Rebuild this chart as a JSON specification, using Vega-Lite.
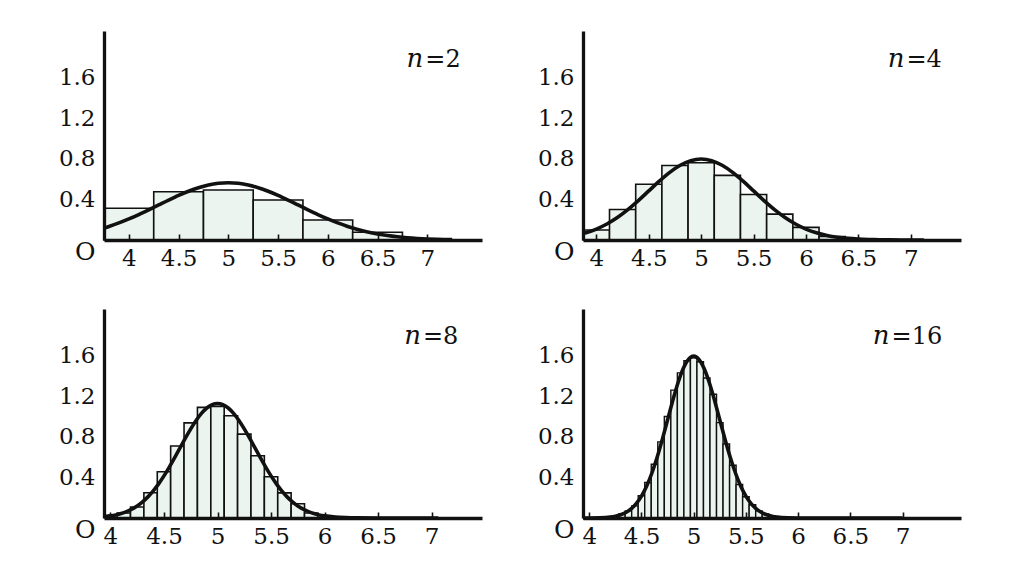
{
  "$schema": "https://vega.github.io/schema/vega-lite/v6.json",
  "background": "white",
  "padding": {"left": 58, "top": 31, "right": 5, "bottom": 5},
  "datasets": {
    "bars": [
      {"p":1,"lo":3.75,"hi":4.25,"h":0.313},{"p":1,"lo":4.25,"hi":4.75,"h":0.476},{"p":1,"lo":4.75,"hi":5.25,"h":0.493},{"p":1,"lo":5.25,"hi":5.75,"h":0.394},{"p":1,"lo":5.75,"hi":6.25,"h":0.197},{"p":1,"lo":6.25,"hi":6.75,"h":0.076},
      {"p":2,"lo":3.875,"hi":4.125,"h":0.098},{"p":2,"lo":4.125,"hi":4.375,"h":0.30},{"p":2,"lo":4.375,"hi":4.625,"h":0.549},{"p":2,"lo":4.625,"hi":4.875,"h":0.735},{"p":2,"lo":4.875,"hi":5.125,"h":0.761},{"p":2,"lo":5.125,"hi":5.375,"h":0.637},{"p":2,"lo":5.375,"hi":5.625,"h":0.448},{"p":2,"lo":5.625,"hi":5.875,"h":0.255},{"p":2,"lo":5.875,"hi":6.125,"h":0.124},{"p":2,"lo":6.125,"hi":6.375,"h":0.035},
      {"p":3,"lo":4.0625,"hi":4.1875,"h":0.05},{"p":3,"lo":4.1875,"hi":4.3125,"h":0.108},{"p":3,"lo":4.3125,"hi":4.4375,"h":0.249},{"p":3,"lo":4.4375,"hi":4.5625,"h":0.456},{"p":3,"lo":4.5625,"hi":4.6875,"h":0.709},{"p":3,"lo":4.6875,"hi":4.8125,"h":0.938},{"p":3,"lo":4.8125,"hi":4.9375,"h":1.09},{"p":3,"lo":4.9375,"hi":5.0625,"h":1.10},{"p":3,"lo":5.0625,"hi":5.1875,"h":1.008},{"p":3,"lo":5.1875,"hi":5.3125,"h":0.827},{"p":3,"lo":5.3125,"hi":5.4375,"h":0.614},{"p":3,"lo":5.4375,"hi":5.5625,"h":0.407},{"p":3,"lo":5.5625,"hi":5.6875,"h":0.248},{"p":3,"lo":5.6875,"hi":5.8125,"h":0.14},{"p":3,"lo":5.8125,"hi":5.9375,"h":0.05},
      {"p":4,"lo":4.21875,"hi":4.28125,"h":0.02},{"p":4,"lo":4.28125,"hi":4.34375,"h":0.04},{"p":4,"lo":4.34375,"hi":4.40625,"h":0.07},{"p":4,"lo":4.40625,"hi":4.46875,"h":0.12},{"p":4,"lo":4.46875,"hi":4.53125,"h":0.22},{"p":4,"lo":4.53125,"hi":4.59375,"h":0.35},{"p":4,"lo":4.59375,"hi":4.65625,"h":0.53},{"p":4,"lo":4.65625,"hi":4.71875,"h":0.75},{"p":4,"lo":4.71875,"hi":4.78125,"h":1.00},{"p":4,"lo":4.78125,"hi":4.84375,"h":1.26},{"p":4,"lo":4.84375,"hi":4.90625,"h":1.43},{"p":4,"lo":4.90625,"hi":4.96875,"h":1.55},{"p":4,"lo":4.96875,"hi":5.03125,"h":1.58},{"p":4,"lo":5.03125,"hi":5.09375,"h":1.54},{"p":4,"lo":5.09375,"hi":5.15625,"h":1.38},{"p":4,"lo":5.15625,"hi":5.21875,"h":1.22},{"p":4,"lo":5.21875,"hi":5.28125,"h":0.94},{"p":4,"lo":5.28125,"hi":5.34375,"h":0.73},{"p":4,"lo":5.34375,"hi":5.40625,"h":0.52},{"p":4,"lo":5.40625,"hi":5.46875,"h":0.33},{"p":4,"lo":5.46875,"hi":5.53125,"h":0.21},{"p":4,"lo":5.53125,"hi":5.59375,"h":0.13},{"p":4,"lo":5.59375,"hi":5.65625,"h":0.07},{"p":4,"lo":5.65625,"hi":5.71875,"h":0.04},{"p":4,"lo":5.71875,"hi":5.78125,"h":0.02}
    ],
    "curve": [
      {"p":1,"x":3.75,"y":0.118},{"p":1,"x":3.8,"y":0.1337},{"p":1,"x":3.9,"y":0.1683},{"p":1,"x":4.0,"y":0.2076},{"p":1,"x":4.1,"y":0.251},{"p":1,"x":4.2,"y":0.2975},{"p":1,"x":4.3,"y":0.3456},{"p":1,"x":4.4,"y":0.3936},{"p":1,"x":4.5,"y":0.4394},{"p":1,"x":4.6,"y":0.4808},{"p":1,"x":4.7,"y":0.5156},{"p":1,"x":4.8,"y":0.5421},{"p":1,"x":4.9,"y":0.5586},{"p":1,"x":5.0,"y":0.5642},{"p":1,"x":5.1,"y":0.5586},{"p":1,"x":5.2,"y":0.5421},{"p":1,"x":5.3,"y":0.5156},{"p":1,"x":5.4,"y":0.4808},{"p":1,"x":5.5,"y":0.4394},{"p":1,"x":5.6,"y":0.3936},{"p":1,"x":5.7,"y":0.3456},{"p":1,"x":5.8,"y":0.2975},{"p":1,"x":5.9,"y":0.251},{"p":1,"x":6.0,"y":0.2076},{"p":1,"x":6.1,"y":0.1683},{"p":1,"x":6.2,"y":0.1337},{"p":1,"x":6.3,"y":0.1041},{"p":1,"x":6.4,"y":0.0795},{"p":1,"x":6.5,"y":0.0595},{"p":1,"x":6.6,"y":0.0436},{"p":1,"x":6.7,"y":0.0314},{"p":1,"x":6.8,"y":0.0221},{"p":1,"x":6.9,"y":0.0153},{"p":1,"x":7.0,"y":0.0103},{"p":1,"x":7.1,"y":0.0069},{"p":1,"x":7.2,"y":0.0045},{"p":1,"x":7.25,"y":0.0036},
      {"p":2,"x":3.875,"y":0.0635},{"p":2,"x":3.9,"y":0.0709},{"p":2,"x":4.0,"y":0.108},{"p":2,"x":4.1,"y":0.1579},{"p":2,"x":4.2,"y":0.2218},{"p":2,"x":4.3,"y":0.2995},{"p":2,"x":4.4,"y":0.3884},{"p":2,"x":4.5,"y":0.4839},{"p":2,"x":4.6,"y":0.5794},{"p":2,"x":4.7,"y":0.6665},{"p":2,"x":4.8,"y":0.7366},{"p":2,"x":4.9,"y":0.7821},{"p":2,"x":5.0,"y":0.7979},{"p":2,"x":5.1,"y":0.7821},{"p":2,"x":5.2,"y":0.7366},{"p":2,"x":5.3,"y":0.6665},{"p":2,"x":5.4,"y":0.5794},{"p":2,"x":5.5,"y":0.4839},{"p":2,"x":5.6,"y":0.3884},{"p":2,"x":5.7,"y":0.2995},{"p":2,"x":5.8,"y":0.2218},{"p":2,"x":5.9,"y":0.1579},{"p":2,"x":6.0,"y":0.108},{"p":2,"x":6.1,"y":0.0709},{"p":2,"x":6.2,"y":0.0448},{"p":2,"x":6.3,"y":0.0271},{"p":2,"x":6.4,"y":0.0158},{"p":2,"x":6.5,"y":0.0089},{"p":2,"x":6.6,"y":0.0048},{"p":2,"x":6.7,"y":0.0025},{"p":2,"x":6.8,"y":0.0012},{"p":2,"x":7.0,"y":0.0003},{"p":2,"x":7.125,"y":0.0001},
      {"p":3,"x":3.94,"y":0.0126},{"p":3,"x":4.0,"y":0.0207},{"p":3,"x":4.05,"y":0.0305},{"p":3,"x":4.1,"y":0.0442},{"p":3,"x":4.15,"y":0.0627},{"p":3,"x":4.2,"y":0.0872},{"p":3,"x":4.25,"y":0.1189},{"p":3,"x":4.3,"y":0.159},{"p":3,"x":4.35,"y":0.2082},{"p":3,"x":4.4,"y":0.2673},{"p":3,"x":4.45,"y":0.3365},{"p":3,"x":4.5,"y":0.4151},{"p":3,"x":4.55,"y":0.502},{"p":3,"x":4.6,"y":0.595},{"p":3,"x":4.65,"y":0.6913},{"p":3,"x":4.7,"y":0.7873},{"p":3,"x":4.75,"y":0.8788},{"p":3,"x":4.8,"y":0.9615},{"p":3,"x":4.85,"y":1.0312},{"p":3,"x":4.9,"y":1.0842},{"p":3,"x":4.95,"y":1.1172},{"p":3,"x":5.0,"y":1.1284},{"p":3,"x":5.05,"y":1.1172},{"p":3,"x":5.1,"y":1.0842},{"p":3,"x":5.15,"y":1.0312},{"p":3,"x":5.2,"y":0.9615},{"p":3,"x":5.25,"y":0.8788},{"p":3,"x":5.3,"y":0.7873},{"p":3,"x":5.35,"y":0.6913},{"p":3,"x":5.4,"y":0.595},{"p":3,"x":5.45,"y":0.502},{"p":3,"x":5.5,"y":0.4151},{"p":3,"x":5.55,"y":0.3365},{"p":3,"x":5.6,"y":0.2673},{"p":3,"x":5.65,"y":0.2082},{"p":3,"x":5.7,"y":0.159},{"p":3,"x":5.75,"y":0.1189},{"p":3,"x":5.8,"y":0.0872},{"p":3,"x":5.85,"y":0.0627},{"p":3,"x":5.9,"y":0.0442},{"p":3,"x":5.95,"y":0.0305},{"p":3,"x":6.0,"y":0.0207},{"p":3,"x":6.1,"y":0.0089},{"p":3,"x":6.2,"y":0.0036},{"p":3,"x":6.3,"y":0.0013},{"p":3,"x":6.5,"y":0.0001},{"p":3,"x":7.0625,"y":0},
      {"p":4,"x":3.94,"y":0.0002},{"p":4,"x":4.0,"y":0.0005},{"p":4,"x":4.1,"y":0.0024},{"p":4,"x":4.2,"y":0.0095},{"p":4,"x":4.25,"y":0.0177},{"p":4,"x":4.3,"y":0.0316},{"p":4,"x":4.35,"y":0.0543},{"p":4,"x":4.4,"y":0.0895},{"p":4,"x":4.45,"y":0.1419},{"p":4,"x":4.5,"y":0.216},{"p":4,"x":4.55,"y":0.3158},{"p":4,"x":4.6,"y":0.4436},{"p":4,"x":4.65,"y":0.5989},{"p":4,"x":4.7,"y":0.7768},{"p":4,"x":4.75,"y":0.9679},{"p":4,"x":4.8,"y":1.1587},{"p":4,"x":4.85,"y":1.333},{"p":4,"x":4.9,"y":1.4731},{"p":4,"x":4.95,"y":1.5642},{"p":4,"x":5.0,"y":1.5958},{"p":4,"x":5.05,"y":1.5642},{"p":4,"x":5.1,"y":1.4731},{"p":4,"x":5.15,"y":1.333},{"p":4,"x":5.2,"y":1.1587},{"p":4,"x":5.25,"y":0.9679},{"p":4,"x":5.3,"y":0.7768},{"p":4,"x":5.35,"y":0.5989},{"p":4,"x":5.4,"y":0.4436},{"p":4,"x":5.45,"y":0.3158},{"p":4,"x":5.5,"y":0.216},{"p":4,"x":5.55,"y":0.1419},{"p":4,"x":5.6,"y":0.0895},{"p":4,"x":5.65,"y":0.0543},{"p":4,"x":5.7,"y":0.0316},{"p":4,"x":5.75,"y":0.0177},{"p":4,"x":5.8,"y":0.0095},{"p":4,"x":5.9,"y":0.0024},{"p":4,"x":6.0,"y":0.0005},{"p":4,"x":6.1,"y":0.0001},{"p":4,"x":7.0,"y":0}
    ]
  },
  "columns": 2,
  "spacing": {"row": 69, "column": 101},
  "bounds": "flush",
  "concat": [
    {
      "width": 378, "height": 209,
      "layer": [
        {"data": {"name": "bars"}, "transform": [{"filter": "datum.p == 1"}],
         "mark": {"type": "rect", "fill": "#ebf4ee", "stroke": "#111", "strokeWidth": 1.6},
         "encoding": {
           "x": {"field": "lo", "type": "quantitative", "scale": {"domain": [3.75, 7.55], "nice": false, "zero": false},
                 "axis": {"title": null, "zindex": 1, "values": [4,4.25,4.5,4.75,5,5.25,5.5,5.75,6,6.25,6.5,6.75,7,7.25],
                          "labelExpr": "abs(datum.value*2-round(datum.value*2))<1e-6 ? format(datum.value,'~g') : ''"}},
           "x2": {"field": "hi"},
           "y": {"field": "h", "type": "quantitative", "scale": {"domain": [0, 2.06], "nice": false},
                 "axis": {"title": null, "zindex": 1, "values": [0,0.2,0.4,0.6,0.8,1,1.2,1.4,1.6],
                          "labelExpr": "datum.value == 0 ? 'O' : (round(datum.value*10) % 4 == 0 ? format(datum.value, '.1f') : '')",
                          "tickOpacity": {"condition": {"test": "round(datum.value*10) % 4 == 0", "value": 0}, "value": 1},
                          "labelFontSize": {"condition": {"test": "datum.value == 0", "value": 25}, "value": 23},
                          "labelOffset": {"condition": {"test": "datum.value == 0", "value": 11}, "value": 0}}},
           "y2": {"datum": 0}
         }},
        {"data": {"name": "curve"}, "transform": [{"filter": "datum.p == 1"}],
         "mark": {"type": "line", "interpolate": "monotone", "color": "#111", "strokeWidth": 3.6},
         "encoding": {"x": {"field": "x", "type": "quantitative"}, "y": {"field": "y", "type": "quantitative"}}},
        {"data": {"values": [{}]},
         "mark": {"type": "text", "text": "n", "fontStyle": "italic", "align": "right", "baseline": "alphabetic", "fontSize": 26, "font": "DejaVu Serif", "color": "#111"},
         "encoding": {"x": {"datum": 6.96}, "y": {"datum": 1.706}}},
        {"data": {"values": [{}]},
         "mark": {"type": "text", "text": "=2", "align": "left", "dx": 2, "baseline": "alphabetic", "fontSize": 24, "font": "DejaVu Serif", "color": "#111"},
         "encoding": {"x": {"datum": 6.96}, "y": {"datum": 1.706}}}
      ]
    },
    {
      "width": 378, "height": 209,
      "layer": [
        {"data": {"name": "bars"}, "transform": [{"filter": "datum.p == 2"}],
         "mark": {"type": "rect", "fill": "#ebf4ee", "stroke": "#111", "strokeWidth": 1.6},
         "encoding": {
           "x": {"field": "lo", "type": "quantitative", "scale": {"domain": [3.872, 7.48], "nice": false, "zero": false},
                 "axis": {"title": null, "zindex": 1, "values": [4,4.125,4.25,4.375,4.5,4.625,4.75,4.875,5,5.125,5.25,5.375,5.5,5.625,5.75,5.875,6,6.125,6.25,6.375,6.5,6.625,6.75,6.875,7,7.125],
                          "labelExpr": "abs(datum.value*2-round(datum.value*2))<1e-6 ? format(datum.value,'~g') : ''"}},
           "x2": {"field": "hi"},
           "y": {"field": "h", "type": "quantitative", "scale": {"domain": [0, 2.06], "nice": false},
                 "axis": {"title": null, "zindex": 1, "values": [0,0.2,0.4,0.6,0.8,1,1.2,1.4,1.6],
                          "labelExpr": "datum.value == 0 ? 'O' : (round(datum.value*10) % 4 == 0 ? format(datum.value, '.1f') : '')",
                          "tickOpacity": {"condition": {"test": "round(datum.value*10) % 4 == 0", "value": 0}, "value": 1},
                          "labelFontSize": {"condition": {"test": "datum.value == 0", "value": 25}, "value": 23},
                          "labelOffset": {"condition": {"test": "datum.value == 0", "value": 11}, "value": 0}}},
           "y2": {"datum": 0}
         }},
        {"data": {"name": "curve"}, "transform": [{"filter": "datum.p == 2"}],
         "mark": {"type": "line", "interpolate": "monotone", "color": "#111", "strokeWidth": 3.6},
         "encoding": {"x": {"field": "x", "type": "quantitative"}, "y": {"field": "y", "type": "quantitative"}}},
        {"data": {"values": [{}]},
         "mark": {"type": "text", "text": "n", "fontStyle": "italic", "align": "right", "baseline": "alphabetic", "fontSize": 26, "font": "DejaVu Serif", "color": "#111"},
         "encoding": {"x": {"datum": 6.94}, "y": {"datum": 1.706}}},
        {"data": {"values": [{}]},
         "mark": {"type": "text", "text": "=4", "align": "left", "dx": 2, "baseline": "alphabetic", "fontSize": 24, "font": "DejaVu Serif", "color": "#111"},
         "encoding": {"x": {"datum": 6.94}, "y": {"datum": 1.706}}}
      ]
    },
    {
      "width": 378, "height": 209,
      "layer": [
        {"data": {"name": "bars"}, "transform": [{"filter": "datum.p == 3"}],
         "mark": {"type": "rect", "fill": "#ebf4ee", "stroke": "#111", "strokeWidth": 1.6},
         "encoding": {
           "x": {"field": "lo", "type": "quantitative", "scale": {"domain": [3.94, 7.47], "nice": false, "zero": false},
                 "axis": {"title": null, "zindex": 1, "values": [4,4.0625,4.125,4.1875,4.25,4.3125,4.375,4.4375,4.5,4.5625,4.625,4.6875,4.75,4.8125,4.875,4.9375,5,5.0625,5.125,5.1875,5.25,5.3125,5.375,5.4375,5.5,5.5625,5.625,5.6875,5.75,5.8125,5.875,5.9375,6,6.0625,6.125,6.1875,6.25,6.3125,6.375,6.4375,6.5,6.5625,6.625,6.6875,6.75,6.8125,6.875,6.9375,7,7.0625],
                          "labelExpr": "abs(datum.value*2-round(datum.value*2))<1e-6 ? format(datum.value,'~g') : ''"}},
           "x2": {"field": "hi"},
           "y": {"field": "h", "type": "quantitative", "scale": {"domain": [0, 2.06], "nice": false},
                 "axis": {"title": null, "zindex": 1, "values": [0,0.2,0.4,0.6,0.8,1,1.2,1.4,1.6],
                          "labelExpr": "datum.value == 0 ? 'O' : (round(datum.value*10) % 4 == 0 ? format(datum.value, '.1f') : '')",
                          "tickOpacity": {"condition": {"test": "round(datum.value*10) % 4 == 0", "value": 0}, "value": 1},
                          "labelFontSize": {"condition": {"test": "datum.value == 0", "value": 25}, "value": 23},
                          "labelOffset": {"condition": {"test": "datum.value == 0", "value": 11}, "value": 0}}},
           "y2": {"datum": 0}
         }},
        {"data": {"name": "curve"}, "transform": [{"filter": "datum.p == 3"}],
         "mark": {"type": "line", "interpolate": "monotone", "color": "#111", "strokeWidth": 3.6},
         "encoding": {"x": {"field": "x", "type": "quantitative"}, "y": {"field": "y", "type": "quantitative"}}},
        {"data": {"values": [{}]},
         "mark": {"type": "text", "text": "n", "fontStyle": "italic", "align": "right", "baseline": "alphabetic", "fontSize": 26, "font": "DejaVu Serif", "color": "#111"},
         "encoding": {"x": {"datum": 6.90}, "y": {"datum": 1.716}}},
        {"data": {"values": [{}]},
         "mark": {"type": "text", "text": "=8", "align": "left", "dx": 2, "baseline": "alphabetic", "fontSize": 24, "font": "DejaVu Serif", "color": "#111"},
         "encoding": {"x": {"datum": 6.90}, "y": {"datum": 1.716}}}
      ]
    },
    {
      "width": 378, "height": 209,
      "layer": [
        {"data": {"name": "bars"}, "transform": [{"filter": "datum.p == 4"}],
         "mark": {"type": "rect", "fill": "#ebf4ee", "stroke": "#111", "strokeWidth": 1.4},
         "encoding": {
           "x": {"field": "lo", "type": "quantitative", "scale": {"domain": [3.94, 7.56], "nice": false, "zero": false},
                 "axis": {"title": null, "zindex": 1, "values": [4,4.0625,4.125,4.1875,4.25,4.3125,4.375,4.4375,4.5,4.5625,4.625,4.6875,4.75,4.8125,4.875,4.9375,5,5.0625,5.125,5.1875,5.25,5.3125,5.375,5.4375,5.5,5.5625,5.625,5.6875,5.75,5.8125,5.875,5.9375,6,6.0625,6.125,6.1875,6.25,6.3125,6.375,6.4375,6.5,6.5625,6.625,6.6875,6.75,6.8125,6.875,6.9375,7],
                          "labelExpr": "abs(datum.value*2-round(datum.value*2))<1e-6 ? format(datum.value,'~g') : ''"}},
           "x2": {"field": "hi"},
           "y": {"field": "h", "type": "quantitative", "scale": {"domain": [0, 2.06], "nice": false},
                 "axis": {"title": null, "zindex": 1, "values": [0,0.2,0.4,0.6,0.8,1,1.2,1.4,1.6],
                          "labelExpr": "datum.value == 0 ? 'O' : (round(datum.value*10) % 4 == 0 ? format(datum.value, '.1f') : '')",
                          "tickOpacity": {"condition": {"test": "round(datum.value*10) % 4 == 0", "value": 0}, "value": 1},
                          "labelFontSize": {"condition": {"test": "datum.value == 0", "value": 25}, "value": 23},
                          "labelOffset": {"condition": {"test": "datum.value == 0", "value": 11}, "value": 0}}},
           "y2": {"datum": 0}
         }},
        {"data": {"name": "curve"}, "transform": [{"filter": "datum.p == 4"}],
         "mark": {"type": "line", "interpolate": "monotone", "color": "#111", "strokeWidth": 3.6},
         "encoding": {"x": {"field": "x", "type": "quantitative"}, "y": {"field": "y", "type": "quantitative"}}},
        {"data": {"values": [{}]},
         "mark": {"type": "text", "text": "n", "fontStyle": "italic", "align": "right", "baseline": "alphabetic", "fontSize": 26, "font": "DejaVu Serif", "color": "#111"},
         "encoding": {"x": {"datum": 6.876}, "y": {"datum": 1.716}}},
        {"data": {"values": [{}]},
         "mark": {"type": "text", "text": "=16", "align": "left", "dx": 2, "baseline": "alphabetic", "fontSize": 24, "font": "DejaVu Serif", "color": "#111"},
         "encoding": {"x": {"datum": 6.876}, "y": {"datum": 1.716}}}
      ]
    }
  ],
  "config": {
    "view": {"stroke": null},
    "font": "DejaVu Serif",
    "axis": {"grid": false, "domainColor": "#111", "domainWidth": 3.3, "tickColor": "#111", "tickWidth": 1.6,
             "labelFont": "DejaVu Serif", "labelFontSize": 23, "labelColor": "#111", "labelOverlap": false, "labelFlush": false},
    "axisX": {"tickSize": -6, "labelPadding": 13},
    "axisY": {"tickSize": -7, "labelPadding": 16}
  }
}
